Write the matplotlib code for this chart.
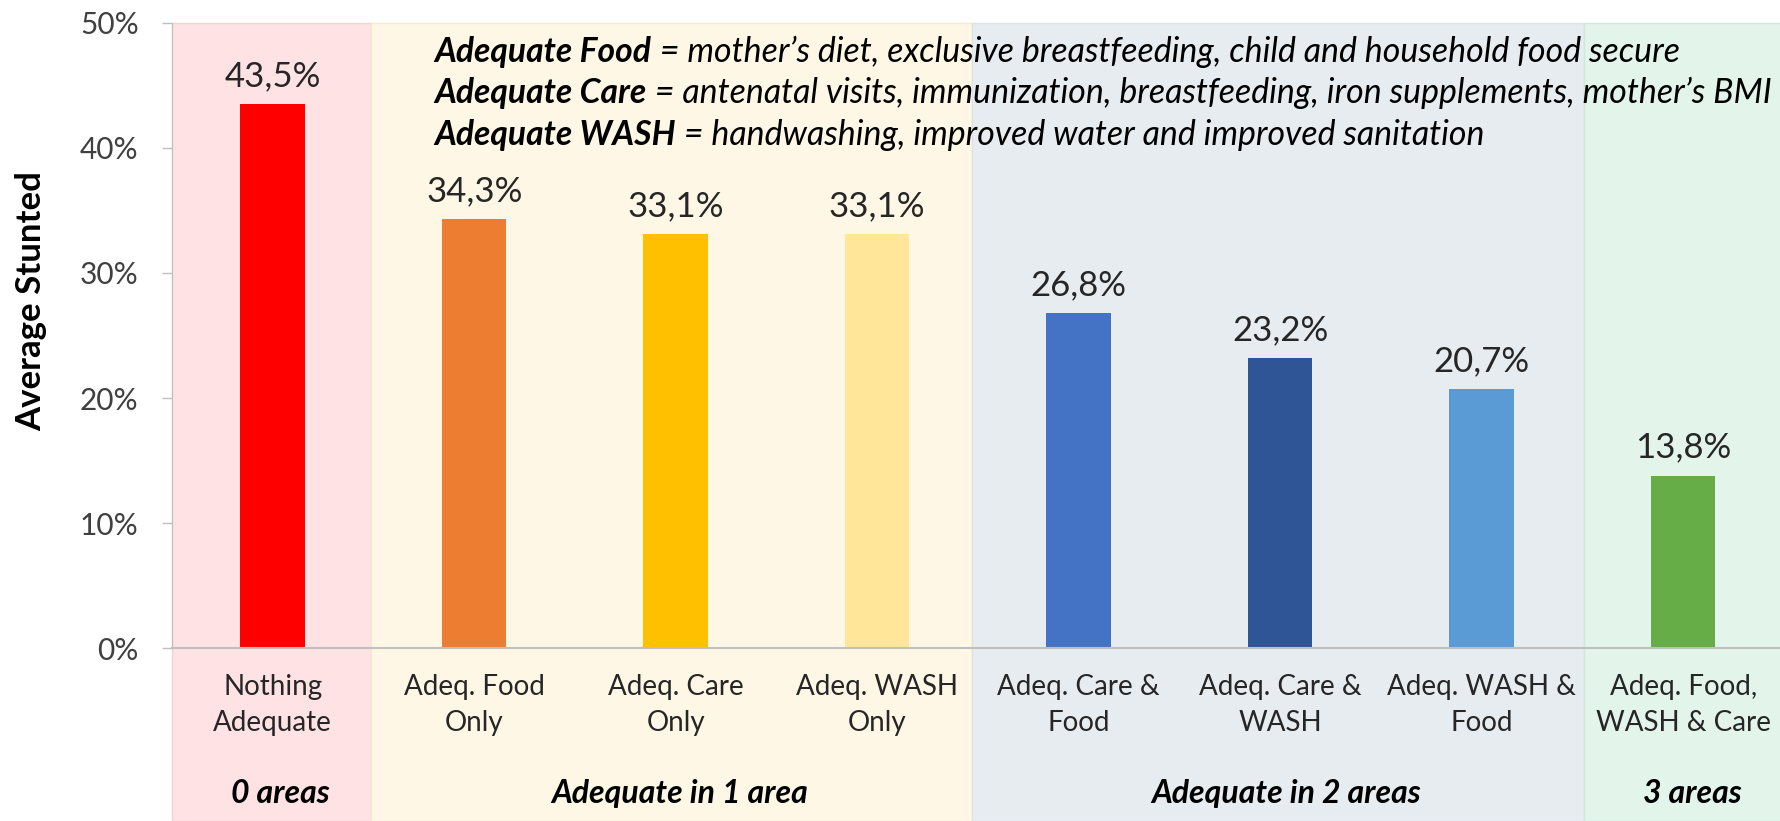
import matplotlib
matplotlib.use('Agg')
import matplotlib.pyplot as plt
from matplotlib.patches import Rectangle
from matplotlib.transforms import blended_transform_factory

plt.rcParams['font.family'] = ['Lato', 'DejaVu Sans']

# data
categories = ['Nothing\nAdequate', 'Adeq. Food\nOnly', 'Adeq. Care\nOnly', 'Adeq. WASH\nOnly',
              'Adeq. Care &\nFood', 'Adeq. Care &\nWASH', 'Adeq. WASH &\nFood', 'Adeq. Food,\nWASH & Care']
stunted = [43.5, 34.3, 33.1, 33.1, 26.8, 23.2, 20.7, 13.8]
bar_colors = ['#FF0000', '#ED7D31', '#FFC000', '#FFE699', '#4472C4', '#2F5597', '#5B9BD5', '#66AD47']

groups = ['0 areas', 'Adequate in 1 area', 'Adequate in 2 areas', '3 areas']
group_colors = ['#FFE3E4', '#FFF7E6', '#E7ECF1', '#E3F5EA']
group_edges = ['#F8D0CC', '#F5E9D2', '#DCE3E8', '#D3E8DC']

notes_bold = ['Adequate Food', 'Adequate Care', 'Adequate WASH']
notes_rest = [' = mother\u2019s diet, exclusive breastfeeding, child and household food secure',
              ' = antenatal visits, immunization, breastfeeding, iron supplements, mother\u2019s BMI',
              ' = handwashing, improved water and improved sanitation']

fig = plt.figure(figsize=(17.8, 8.21), dpi=100)
ax = fig.add_axes([0.0966, 0.2107, 0.9056, 0.7613])
ax.patch.set_visible(False)

x = list(range(len(categories)))
ax.set_xlim(-0.5, len(categories) - 0.5)
ax.set_ylim(0, 50)

# background bands, reaching down under the labels
band_edges = [-0.5, 0.49, 3.47, 6.51, 7.5]
trans = blended_transform_factory(ax.transData, ax.transAxes)
for i, g in enumerate(groups):
    x0, x1 = band_edges[i], band_edges[i + 1]
    ax.add_patch(Rectangle((x0, -0.277), x1 - x0 + (0.1 if i == 3 else 0), 1.277, transform=trans,
                           clip_on=False, facecolor=group_colors[i], edgecolor=group_edges[i],
                           lw=1, zorder=0))
    ax.annotate(g, ((x0 + x1) / 2, -0.248), xycoords=trans, xytext=(6, 0),
                textcoords='offset points', ha='center', va='baseline', fontsize=23,
                fontweight='bold', style='italic', color='black')

bars = ax.bar(x, stunted, width=0.32, color=bar_colors, zorder=2)
for b, v in zip(bars, stunted):
    ax.annotate(f'{v:.1f}'.replace('.', ',') + '%', (b.get_x() + b.get_width() / 2, v),
                xytext=(0, 13), textcoords='offset points', ha='center', va='baseline',
                fontsize=25, color='#262626')

ax.set_yticks(range(0, 51, 10))
ax.set_yticklabels([f'{t}%' for t in range(0, 51, 10)])
ax.tick_params(axis='y', length=7, width=1, color='#BFBFBF', labelsize=21.5, labelcolor='#404040', pad=17)
ax.set_xticks(x)
ax.set_xticklabels(categories, linespacing=1.45)
ax.tick_params(axis='x', length=0, labelsize=20, labelcolor='#262626', pad=19)

for s in ['top', 'right']:
    ax.spines[s].set_visible(False)
ax.spines['left'].set_color('#BFBFBF')
ax.spines['bottom'].set_color('#BFBFBF')
ax.spines['bottom'].set_linewidth(1.5)

fig.text(31 / 1780, 1 - 301 / 821, 'Average Stunted', rotation=90, ha='center', va='center',
         fontsize=25, fontweight='bold', color='black')

# definitions
ys = [0.9376, 0.872, 0.8048]
for yb, bold, rest in zip(ys, notes_bold, notes_rest):
    t1 = ax.text(0.163, yb, bold, transform=ax.transAxes, fontsize=24.2, fontweight='bold',
                 style='italic', va='baseline', ha='left', color='black')
    ax.annotate(rest, xy=(1, 0), xycoords=t1, va='bottom', ha='left', fontsize=24.4,
                style='italic', color='black')

fig.savefig('out.png', dpi=100)
